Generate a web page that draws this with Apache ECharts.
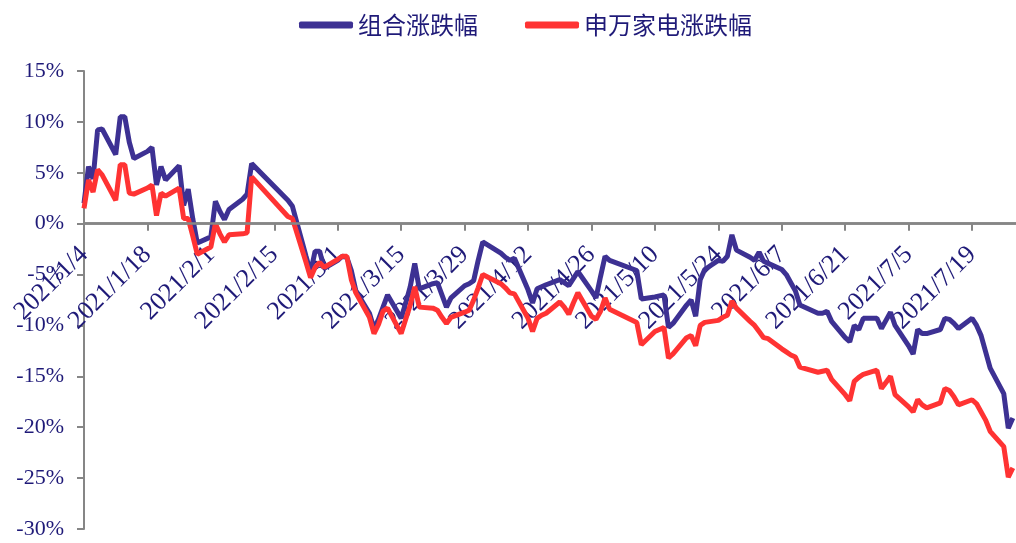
<!DOCTYPE html>
<html>
<head>
<meta charset="utf-8">
<script src="https://cdn.jsdelivr.net/npm/echarts@6/dist/echarts.min.js"></script>
<style>
html,body{margin:0;padding:0;background:#fff;}
#chart{width:1016px;height:543px;}
</style>
</head>
<body>
<div id="chart"></div>
<script>
// Trading dates (2021), month/day
var dates = [
 '1/4','1/5','1/6','1/7','1/8','1/11','1/12','1/13','1/14','1/15','1/18','1/19','1/20','1/21','1/22','1/25','1/26','1/27','1/28','1/29',
 '2/1','2/2','2/3','2/4','2/5','2/8','2/9','2/10','2/18','2/19','2/22','2/23','2/24','2/25','2/26',
 '3/1','3/2','3/3','3/4','3/5','3/8','3/9','3/10','3/11','3/12','3/15','3/16','3/17','3/18','3/19','3/22','3/23','3/24','3/25','3/26','3/29','3/30','3/31',
 '4/1','4/2','4/6','4/7','4/8','4/9','4/12','4/13','4/14','4/15','4/16','4/19','4/20','4/21','4/22','4/23','4/26','4/27','4/28','4/29','4/30',
 '5/6','5/7','5/10','5/11','5/12','5/13','5/14','5/17','5/18','5/19','5/20','5/21','5/24','5/25','5/26','5/27','5/28','5/31',
 '6/1','6/2','6/3','6/4','6/7','6/8','6/9','6/10','6/11','6/15','6/16','6/17','6/18','6/21','6/22','6/23','6/24','6/25','6/28','6/29','6/30',
 '7/1','7/2','7/5','7/6','7/7','7/8','7/9','7/12','7/13','7/14','7/15','7/16','7/19','7/20','7/21','7/22','7/23','7/26','7/27','7/28'
];
// 组合涨跌幅 (%)
var portfolio = [
 2.0,5.6,4.4,9.2,9.3,6.8,10.5,10.5,8.0,6.4,7.1,7.5,3.8,5.6,4.3,5.7,1.8,3.4,0.5,-1.9,
 -1.3,2.2,1.2,0.4,1.4,2.4,2.9,5.9,2.3,1.7,-3.2,-4.8,-2.7,-2.7,-4.4,
 -3.6,-3.2,-3.3,-4.6,-6.6,-8.8,-10.3,-9.4,-8.2,-7.0,-9.3,-7.8,-6.2,-3.9,-6.4,-5.9,-5.8,-7.0,-8.2,-7.3,-6.1,-5.9,-5.6,
 -3.6,-1.8,-2.9,-3.3,-3.6,-3.4,-6.5,-7.8,-6.4,-6.2,-6.0,-5.5,-5.8,-6.1,-5.4,-4.7,-6.6,-7.3,-5.2,-3.2,-3.6,
 -4.6,-7.4,-7.2,-7.1,-7.0,-10.2,-9.8,-8.0,-7.5,-9.1,-5.5,-4.5,-3.6,-3.7,-3.2,-1.1,-2.6,-3.3,
 -3.6,-2.8,-3.7,-3.9,-4.5,-5.0,-5.8,-6.6,-8.0,-8.8,-8.8,-8.6,-9.6,-11.2,-11.6,-10.0,-10.4,-9.3,-9.3,-10.3,-9.5,
 -8.7,-10.0,-12.0,-12.8,-10.4,-10.8,-10.8,-10.4,-9.3,-9.4,-9.8,-10.3,-9.3,-10.0,-11.0,-12.6,-14.2,-16.7,-20.1,-19.1
];
// 申万家电涨跌幅 (%)
var appliance = [
 1.5,4.3,3.1,5.3,4.8,2.3,5.8,5.8,3.0,2.9,3.5,3.8,0.8,3.0,2.7,3.5,0.5,0.5,-1.2,-3.0,
 -2.3,0.0,-1.0,-1.8,-1.1,-1.0,-0.9,4.6,0.7,0.5,-3.8,-5.3,-4.3,-3.8,-4.3,
 -3.5,-3.2,-3.2,-5.5,-6.8,-9.2,-10.8,-9.9,-8.6,-8.3,-10.8,-9.4,-8.0,-6.2,-8.2,-8.3,-8.5,-9.2,-9.8,-9.2,-8.7,-8.5,-7.5,
 -6.3,-5.0,-5.9,-6.3,-6.8,-6.9,-9.3,-10.6,-9.3,-9.0,-8.8,-7.7,-8.2,-8.9,-7.8,-6.8,-9.1,-9.4,-8.6,-7.3,-8.4,
 -9.7,-11.9,-10.6,-10.4,-10.2,-13.2,-12.8,-11.2,-11.0,-12.0,-10.0,-9.7,-9.5,-9.2,-9.0,-7.6,-8.3,-9.6,
 -10.0,-10.6,-11.2,-11.3,-12.3,-12.6,-12.9,-13.1,-14.1,-14.6,-14.5,-14.4,-15.3,-16.8,-17.4,-15.5,-15.1,-14.8,-14.4,-16.2,-15.6,
 -15.0,-16.8,-18.0,-18.5,-17.3,-17.8,-18.1,-17.6,-16.2,-16.4,-17.0,-17.8,-17.3,-17.7,-18.5,-19.3,-20.4,-21.9,-24.9,-24.0
];
var seriesNames = ['组合涨跌幅','申万家电涨跌幅'];
var xTickDates = ['1/4','1/18','2/1','2/15','3/1','3/15','3/29','4/12','4/26','5/10','5/24','6/7','6/21','7/5','7/19'];

var YEAR = 2021;
var BASE = Date.UTC(YEAR, 0, 4);
function dayIndex(md){
  var p = md.split('/');
  return Math.round((Date.UTC(YEAR, +p[0]-1, +p[1]) - BASE) / 86400000);
}
function dayLabel(v){
  var d = new Date(BASE + Math.round(v) * 86400000);
  return YEAR + '/' + (d.getUTCMonth()+1) + '/' + d.getUTCDate();
}
var xs = dates.map(dayIndex);
var tickVals = xTickDates.map(dayIndex);
function pairs(arr){ return arr.map(function(v,i){ return [xs[i], v]; }); }

var textColor = '#1f1a78';
var axisColor = '#868686';
var serif = '"Liberation Serif","Times New Roman",serif';

var H = 543, GRID_TOP = 71, GRID_BOTTOM = 14;
var Y_MIN = -30, Y_MAX = 15;
var plotH = H - GRID_TOP - GRID_BOTTOM;
// move the x axis from the bottom edge up to the 0% line
var xAxisOffset = -((0 - Y_MIN) / (Y_MAX - Y_MIN)) * plotH;

var chart = echarts.init(document.getElementById('chart'));
chart.setOption({
  animation: false,
  backgroundColor: '#ffffff',
  legend: {
    top: 8,
    left: 294,
    itemWidth: 54,
    itemHeight: 7,
    itemGap: 47,
    icon: 'roundRect',
    textStyle: { fontFamily: '"Noto Sans CJK SC",sans-serif', fontSize: 24, color: textColor },
    data: seriesNames
  },
  grid: { left: 84, right: 0, top: GRID_TOP, bottom: GRID_BOTTOM, containLabel: false, outerBoundsMode: 'none' },
  xAxis: {
    type: 'value',
    position: 'bottom',
    offset: xAxisOffset,
    min: 0,
    max: 205.7,
    splitLine: { show: false },
    axisLine: { show: true, onZero: false, lineStyle: { color: axisColor, width: 2.5 } },
    axisTick: { show: true, length: 7, lineStyle: { color: axisColor, width: 2 }, customValues: tickVals },
    axisLabel: {
      customValues: tickVals,
      rotate: 45,
      margin: 27,
      color: textColor,
      fontFamily: serif,
      fontSize: 26,
      formatter: function(v){ return dayLabel(v); }
    }
  },
  yAxis: {
    type: 'value',
    min: Y_MIN,
    max: Y_MAX,
    interval: 5,
    splitLine: { show: false },
    axisLine: { show: true, onZero: false, lineStyle: { color: axisColor, width: 2 } },
    axisTick: { show: true, length: 7, lineStyle: { color: axisColor, width: 2 } },
    axisLabel: {
      margin: 20,
      color: textColor,
      fontFamily: serif,
      fontSize: 22,
      formatter: function(v){ return v + '%'; }
    }
  },
  series: [
    { name: seriesNames[0], type: 'line', data: pairs(portfolio), showSymbol: false, symbol: 'none',
      lineStyle: { color: '#3d3193', width: 5 }, itemStyle: { color: '#3d3193' }, z: 3,
      markLine: { silent: true, symbol: 'none', label: { show: false }, animation: false,
        lineStyle: { color: axisColor, width: 2.5, type: 'solid' }, data: [{ yAxis: 0 }] } },
    { name: seriesNames[1], type: 'line', data: pairs(appliance), showSymbol: false, symbol: 'none',
      lineStyle: { color: '#ff3333', width: 5 }, itemStyle: { color: '#ff3333' }, z: 4 }
  ]
});
</script>
</body>
</html>
